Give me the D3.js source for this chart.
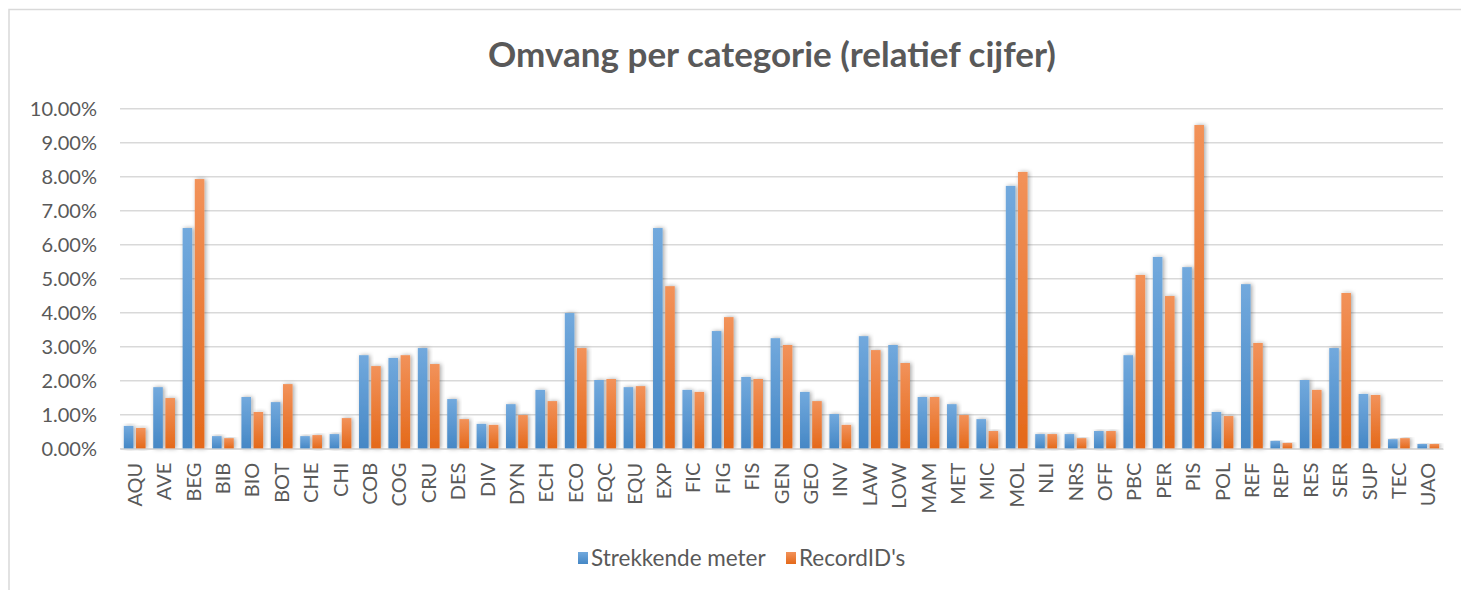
<!DOCTYPE html>
<html>
<head>
<meta charset="utf-8">
<script src="https://cdn.jsdelivr.net/npm/d3@7"></script>
<style>
  body { margin: 0; background: #fff; }
  svg { display: block; }
</style>
</head>
<body>
<div id="chart"></div>
<script>
// categories and the two series (percent)
const categories = ["AQU", "AVE", "BEG", "BIB", "BIO", "BOT", "CHE", "CHI", "COB", "COG",
  "CRU", "DES", "DIV", "DYN", "ECH", "ECO", "EQC", "EQU", "EXP", "FIC", "FIG", "FIS",
  "GEN", "GEO", "INV", "LAW", "LOW", "MAM", "MET", "MIC", "MOL", "NLI", "NRS", "OFF",
  "PBC", "PER", "PIS", "POL", "REF", "REP", "RES", "SER", "SUP", "TEC", "UAO"];

const strekkendeMeter = [0.67, 1.81, 6.49, 0.37, 1.52, 1.37, 0.37, 0.43, 2.75, 2.67,
  2.96, 1.46, 0.73, 1.31, 1.73, 3.99, 2.02, 1.81, 6.49, 1.73, 3.46, 2.11,
  3.25, 1.67, 1.02, 3.31, 3.05, 1.52, 1.31, 0.87, 7.73, 0.43, 0.43, 0.52,
  2.75, 5.64, 5.34, 1.08, 4.84, 0.23, 2.02, 2.96, 1.61, 0.28, 0.14];

const recordIDs = [0.61, 1.49, 7.93, 0.31, 1.08, 1.90, 0.40, 0.90, 2.43, 2.75,
  2.49, 0.87, 0.70, 0.99, 1.40, 2.96, 2.05, 1.84, 4.78, 1.67, 3.87, 2.05,
  3.05, 1.40, 0.70, 2.90, 2.52, 1.52, 0.99, 0.52, 8.14, 0.43, 0.31, 0.52,
  5.11, 4.49, 9.52, 0.96, 3.11, 0.17, 1.73, 4.58, 1.58, 0.31, 0.14];

const seriesNames = ["Strekkende meter", "RecordID's"];
const yTicks = [0, 1, 2, 3, 4, 5, 6, 7, 8, 9, 10];

const width = 1461, height = 590;
const margin = { top: 108.7, right: 18, bottom: 141.3, left: 120 };
const textColor = "#595959";
const font = "Lato, 'Open Sans', sans-serif";

const svg = d3.select("#chart").append("svg")
  .attr("width", width)
  .attr("height", height)
  .attr("font-family", font);

// gradients + soft shadow like the office chart
const defs = svg.append("defs");
const grads = [
  { id: "g0", top: "#72a9dd", bottom: "#4587c5" },
  { id: "g1", top: "#f2925a", bottom: "#e4691a" },
];
grads.forEach((g) => {
  let lg = defs.append("linearGradient").attr("id", g.id)
    .attr("x1", 0).attr("y1", 0).attr("x2", 0).attr("y2", 1);
  lg.append("stop").attr("offset", "0%").attr("stop-color", g.top);
  lg.append("stop").attr("offset", "100%").attr("stop-color", g.bottom);
});
defs.append("filter").attr("id", "shadow")
  .attr("x", "-50%").attr("y", "-10%").attr("width", "200%").attr("height", "120%")
  .append("feDropShadow")
  .attr("dx", 1.5).attr("dy", 0).attr("stdDeviation", 2)
  .attr("flood-color", "#000").attr("flood-opacity", 0.35);

// outer border of chart area
svg.append("rect")
  .attr("x", 9).attr("y", 9.5)
  .attr("width", width + 20).attr("height", height + 20)
  .attr("fill", "none").attr("stroke", "#d9d9d9").attr("stroke-width", 1.5);

svg.append("text")
  .attr("x", 772).attr("y", 67)
  .attr("text-anchor", "middle")
  .attr("font-size", 35)
  .attr("font-weight", 700)
  .attr("fill", textColor)
  .text("Omvang per categorie (relatief cijfer)");

const x0 = d3.scaleBand()
  .domain(categories)
  .range([margin.left, width - margin.right])
  .paddingInner(0.26)
  .paddingOuter(0.13);

const x1 = d3.scaleBand()
  .domain(seriesNames)
  .range([0, x0.bandwidth()])
  .paddingInner(0.21);

const y = d3.scaleLinear()
  .domain([0, 10])
  .range([height - margin.bottom, margin.top]);

// gridlines
svg.append("g")
  .selectAll("line")
  .data(yTicks)
  .join("line")
  .attr("x1", margin.left)
  .attr("x2", width - margin.right)
  .attr("y1", (d) => y(d))
  .attr("y2", (d) => y(d))
  .attr("stroke", "#d9d9d9")
  .attr("stroke-width", 1.5);

// y axis labels
const yAxis = svg.append("g")
  .attr("transform", `translate(${margin.left - 23},0)`)
  .call(d3.axisLeft(y).tickValues(yTicks).tickSize(0).tickPadding(0)
    .tickFormat((d) => d.toFixed(2) + "%"));
yAxis.select(".domain").remove();
yAxis.selectAll("text")
  .attr("font-family", font)
  .attr("font-size", 20)
  .attr("fill", textColor);

// bars
const rows = categories.map((c, i) => ({
  cat: c,
  values: [strekkendeMeter[i], recordIDs[i]],
}));

svg.append("g")
  .selectAll("g")
  .data(rows)
  .join("g")
  .attr("transform", (d) => `translate(${x0(d.cat)},0)`)
  .selectAll("rect")
  .data((d) => d.values.map((v, j) => ({ key: seriesNames[j], j: j, value: v })))
  .join("rect")
  .attr("x", (d) => x1(d.key))
  .attr("width", x1.bandwidth())
  .attr("y", (d) => y(d.value))
  .attr("height", (d) => y(0) - y(d.value))
  .attr("fill", (d) => `url(#g${d.j})`)
  .attr("filter", "url(#shadow)");

// x axis
const xAxis = svg.append("g")
  .attr("transform", `translate(0,${y(0)})`)
  .call(d3.axisBottom(x0).tickSize(0).tickPadding(0));
xAxis.select(".domain").attr("stroke", "#d9d9d9").attr("stroke-width", 1.5);
xAxis.selectAll("text")
  .attr("font-family", font)
  .attr("font-size", 20)
  .attr("fill", textColor)
  .attr("text-anchor", "end")
  .attr("transform", "rotate(-90)")
  .attr("x", -14)
  .attr("y", 0)
  .attr("dy", "0.35em");

// legend
const legendItems = [
  { name: seriesNames[0], x: 578, id: "g0" },
  { name: seriesNames[1], x: 786, id: "g1" },
];
const legend = svg.append("g").selectAll("g")
  .data(legendItems)
  .join("g")
  .attr("transform", (d) => `translate(${d.x},552)`);
legend.append("rect")
  .attr("width", 10).attr("height", 12)
  .attr("fill", (d) => `url(#${d.id})`);
legend.append("text")
  .attr("x", 13).attr("y", 6).attr("dy", "0.35em")
  .attr("font-size", 22.5)
  .attr("fill", textColor)
  .text((d) => d.name);
</script>
</body>
</html>
